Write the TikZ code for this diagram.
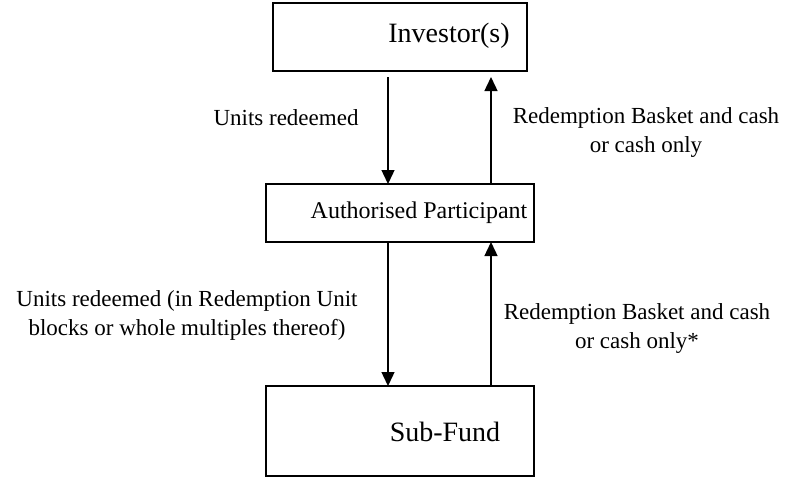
\documentclass[tikz,border=0pt]{standalone}
\usepackage{fontspec}
\setmainfont{Liberation Serif}
\usetikzlibrary{arrows.meta}
\tikzset{
  box/.style={draw, line width=1.6pt, inner sep=0pt},
  boxtext/.style={font=\fontsize{28}{34}\selectfont, inner sep=0pt},
  aptext/.style={font=\fontsize{24}{29}\selectfont, inner sep=0pt},
  lbl/.style={font=\fontsize{23}{29}\selectfont, align=center, inner sep=0pt},
  arr/.style={line width=1.4pt, -{Triangle[length=14pt,width=13pt]}},
}
\begin{document}
\begin{tikzpicture}[x=1pt,y=-1pt]
  \useasboundingbox (0,0) rectangle (792,483);

  % boxes
  \node[box, minimum width=254pt, minimum height=68pt] (inv) at (400,37) {};
  \node[boxtext] (invt) at (449,36) {Investor(s)};
  \node[box, minimum width=268pt, minimum height=58pt] (ap) at (400,213) {};
  \node[aptext] (apt) at (419,213) {Authorised Participant};
  \node[box, minimum width=268pt, minimum height=90pt] (sf) at (400,431) {};
  \node[boxtext] (sft) at (445,432) {Sub-Fund};

  % arrow end points
  \coordinate (a1s) at (388,77);
  \coordinate (a1e) at (388,184);
  \coordinate (a2s) at (491,184);
  \coordinate (a2e) at (491,77);
  \coordinate (a3s) at (388,242);
  \coordinate (a3e) at (388,386);
  \coordinate (a4s) at (491,386);
  \coordinate (a4e) at (491,242);

  \draw[arr] (a1s) -- (a1e);
  \draw[arr] (a2s) -- (a2e);
  \draw[arr] (a3s) -- (a3e);
  \draw[arr] (a4s) -- (a4e);

  % labels
  \node[lbl] (l1) at (286,118) {Units redeemed};
  \node[lbl] (l2) at (646,132) {Redemption Basket and cash\\or cash only};
  \node[lbl] (l3) at (187,315) {Units redeemed (in Redemption Unit\\blocks or whole multiples thereof)};
  \node[lbl] (l4) at (637,328) {Redemption Basket and cash\\or cash only*};
\end{tikzpicture}
\end{document}
